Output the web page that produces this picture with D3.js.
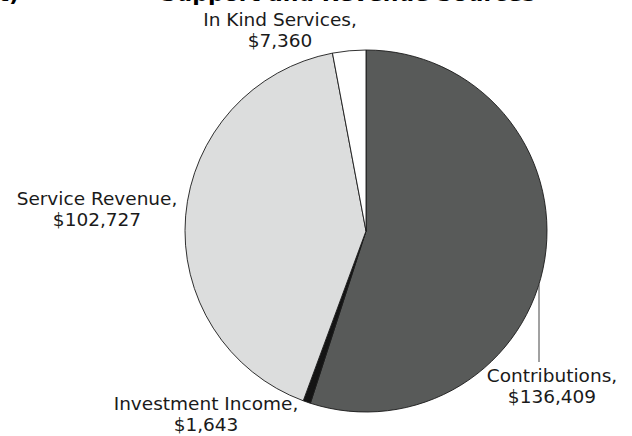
<!DOCTYPE html>
<html>
<head>
<meta charset="utf-8">
<script src="https://cdn.jsdelivr.net/npm/d3@7"></script>
<style>
  body { margin: 0; background: #fff; }
  svg { display: block; font-family: Verdana, "DejaVu Sans", sans-serif; }
</style>
</head>
<body>
<div id="chart"></div>
<script>
// Support and revenue pie
const categories = ['Contributions', 'Investment Income', 'Service Revenue', 'In Kind Services'];
const amounts = [136409, 1643, 102727, 7360];
const sliceColors = ['#585a59', '#141414', '#dcdddd', '#ffffff'];

const width = 632, height = 436;
const cx = 366, cy = 231, radius = 181;

const svg = d3.select('#chart').append('svg')
    .attr('width', width)
    .attr('height', height);

// title, mostly cut off at top of frame
svg.append('text')
    .attr('x', 19).attr('y', 1)
    .attr('text-anchor', 'end')
    .attr('font-size', '22px').attr('font-weight', 'bold')
    .text('(cont)');
svg.append('text')
    .attr('x', 348).attr('y', 1)
    .attr('text-anchor', 'middle')
    .attr('font-size', '22px').attr('font-weight', 'bold')
    .text('Support and Revenue Sources');

const data = categories.map((c, i) => ({ name: c, value: amounts[i], color: sliceColors[i] }));

const pie = d3.pie().sort(null).value(d => d.value);
const arc = d3.arc().innerRadius(0).outerRadius(radius);
const arcs = pie(data);

const g = svg.append('g').attr('transform', `translate(${cx},${cy})`);

g.selectAll('path')
    .data(arcs)
    .enter().append('path')
    .attr('d', arc)
    .attr('fill', d => d.data.color)
    .attr('stroke', '#1a1a1a')
    .attr('stroke-width', 0.9);

// label placement (centre x, first baseline y)
const labelPos = {
    'Contributions': [552, 382],
    'Investment Income': [206, 410],
    'Service Revenue': [97, 205],
    'In Kind Services': [280, 26]
};

const fmt = d3.format('$,');

arcs.forEach(d => {
    const [lx, ly] = labelPos[d.data.name];
    const t = svg.append('text')
        .attr('text-anchor', 'middle')
        .attr('font-size', '18.5px')
        .attr('fill', '#1a1a1a');
    t.append('tspan').attr('x', lx).attr('y', ly).text(d.data.name + ',');
    t.append('tspan').attr('x', lx).attr('y', ly + 21).text(fmt(d.data.value));
});

// leader line for Contributions
const lineX = 539;
const edgeY = cy + Math.sqrt(radius * radius - (lineX - cx) * (lineX - cx));
svg.append('line')
    .attr('x1', lineX).attr('x2', lineX)
    .attr('y1', edgeY).attr('y2', 362)
    .attr('stroke', '#444')
    .attr('stroke-width', 1);
</script>
</body>
</html>
